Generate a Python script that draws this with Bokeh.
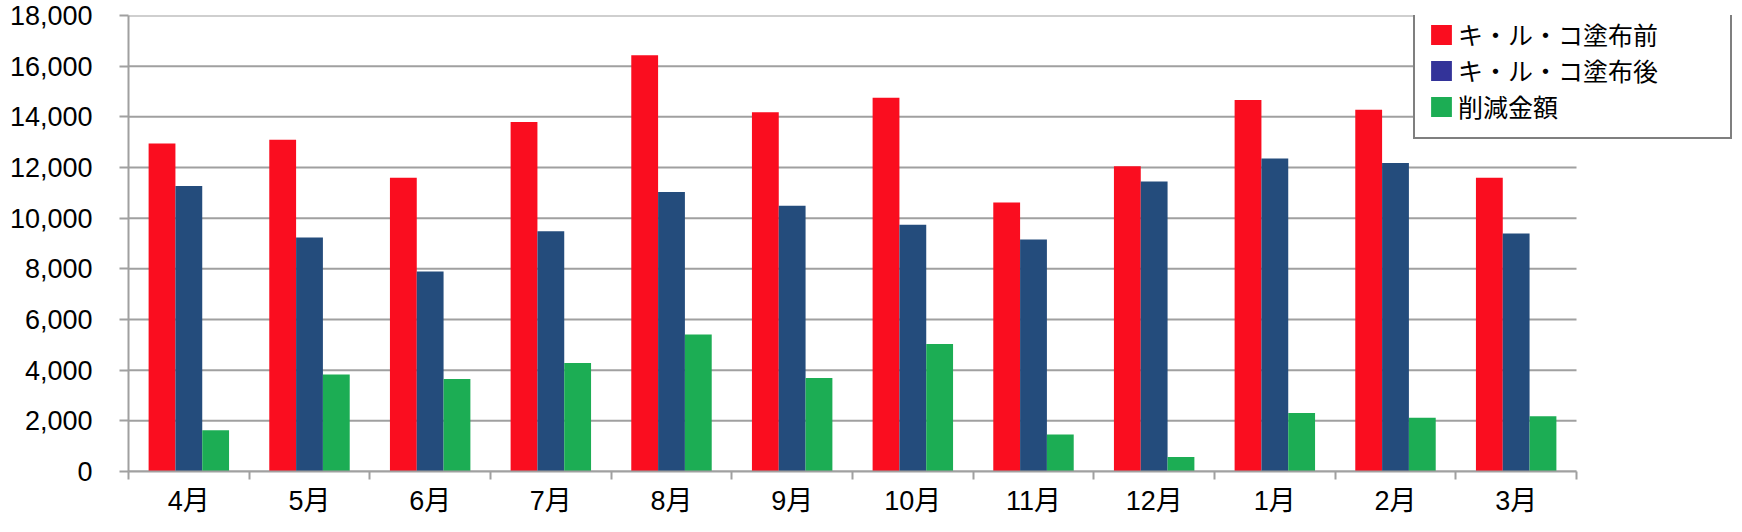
from bokeh.plotting import figure
from bokeh.models import (ColumnDataSource, Range1d, FixedTicker, NumeralTickFormatter,
                          Legend, LegendItem)
from bokeh.transform import dodge
from bokeh.embed import file_html
from bokeh.resources import INLINE

# ---- data ----
months = ["4月", "5月", "6月", "7月", "8月", "9月", "10月", "11月", "12月", "1月", "2月", "3月"]
before = [12950, 13100, 11600, 13800, 16430, 14180, 14750, 10620, 12050, 14660, 14280, 11600]
after = [11270, 9240, 7890, 9480, 11030, 10490, 9740, 9160, 11450, 12360, 12180, 9390]
saving = [1630, 3830, 3650, 4280, 5410, 3690, 5030, 1460, 570, 2310, 2120, 2180]
series_names = ["キ・ル・コ塗布前", "キ・ル・コ塗布後", "削減金額"]
y_ticks = list(range(0, 18001, 2000))

bar_colors = ["#FA0D1F", "#244C7C", "#1CAD54"]
legend_colors = ["#FA0D1F", "#333399", "#1CAD54"]
grid_color = "#A0A0A0"

n = len(months)
centers = [i + 0.5 for i in range(n)]
src = ColumnDataSource(dict(x=centers, before=before, after=after, saving=saving))
grid_src = ColumnDataSource(dict(y=y_ticks, x0=[0] * len(y_ticks), x1=[n] * len(y_ticks)))

W, H = 1736, 531
left_b, right_b, top_b, bottom_b = 128, 2, 15, 60
frame_w = W - left_b - right_b
axis_w = 1448  # pixel width of the category area
x_end = n * frame_w / axis_w

p = figure(width=W, height=H,
           x_range=Range1d(0, x_end), y_range=Range1d(0, 18000),
           output_backend="svg", toolbar_location=None,
           min_border_left=left_b, min_border_right=right_b,
           min_border_top=top_b, min_border_bottom=bottom_b)
p.outline_line_color = None
p.background_fill_color = "white"
p.xgrid.visible = False
p.ygrid.visible = False

# horizontal gridlines limited to the category area
p.segment(x0="x0", x1="x1", y0="y", y1="y", source=grid_src,
          line_color=grid_color, line_width=2)

bw = 1 / 4.5
fields = ["before", "after", "saving"]
offsets = [-bw, 0.0, bw]
for f, off, c in zip(fields, offsets, bar_colors):
    p.vbar(x=dodge("x", off, range=p.x_range), top=f, width=bw, source=src,
           fill_color=c, line_color=None)

# legend proxies (legend swatch colours differ from the bars, as in the reference)
items = []
for f, off, name, c in zip(fields, offsets, series_names, legend_colors):
    r = p.vbar(x=dodge("x", off, range=p.x_range), top=f, width=bw, source=src,
               fill_color=c, line_color=None, visible=False)
    items.append(LegendItem(label=name, renderers=[r]))

legend = Legend(items=items, location=(1285, 332),
                label_text_font="Noto Sans CJK JP", label_text_font_size="25px",
                label_text_color="black",
                glyph_width=26, glyph_height=25, label_standoff=4,
                label_height=32, label_width=259, spacing=0, padding=13,
                border_line_color="black", border_line_width=2,
                background_fill_color="white", background_fill_alpha=1.0,
                inactive_fill_alpha=0.0)
p.add_layout(legend, "center")

# y axis
p.yaxis.ticker = FixedTicker(ticks=y_ticks)
p.yaxis.formatter = NumeralTickFormatter(format="0,0")
p.yaxis.major_label_text_font = "Liberation Sans"
p.yaxis.major_label_text_font_size = "27px"
p.yaxis.major_label_text_color = "black"
p.yaxis.major_tick_out = 9
p.yaxis.major_tick_in = 0
p.yaxis.minor_tick_line_color = None
p.yaxis.major_label_standoff = 27
p.yaxis.axis_line_color = grid_color
p.yaxis.axis_line_width = 2
p.yaxis.major_tick_line_color = grid_color
p.yaxis.major_tick_line_width = 2

# x axis: labels at centers, tick marks at category boundaries
p.xaxis.bounds = (0, n)
p.xaxis.ticker = FixedTicker(ticks=centers, minor_ticks=list(range(n + 1)))
p.xaxis.major_label_overrides = {c: m for c, m in zip(centers, months)}
p.xaxis.major_tick_line_color = None
p.xaxis.major_tick_out = 0
p.xaxis.major_tick_in = 0
p.xaxis.minor_tick_out = 8
p.xaxis.minor_tick_in = 0
p.xaxis.minor_tick_line_color = grid_color
p.xaxis.minor_tick_line_width = 2
p.xaxis.axis_line_color = grid_color
p.xaxis.axis_line_width = 2
p.xaxis.major_label_standoff = 6
p.xaxis.major_label_text_font = "Liberation Sans, Noto Sans CJK JP"
p.xaxis.major_label_text_font_size = "27px"
p.xaxis.major_label_text_color = "black"

open("out.html", "w").write(file_html(p, INLINE))
